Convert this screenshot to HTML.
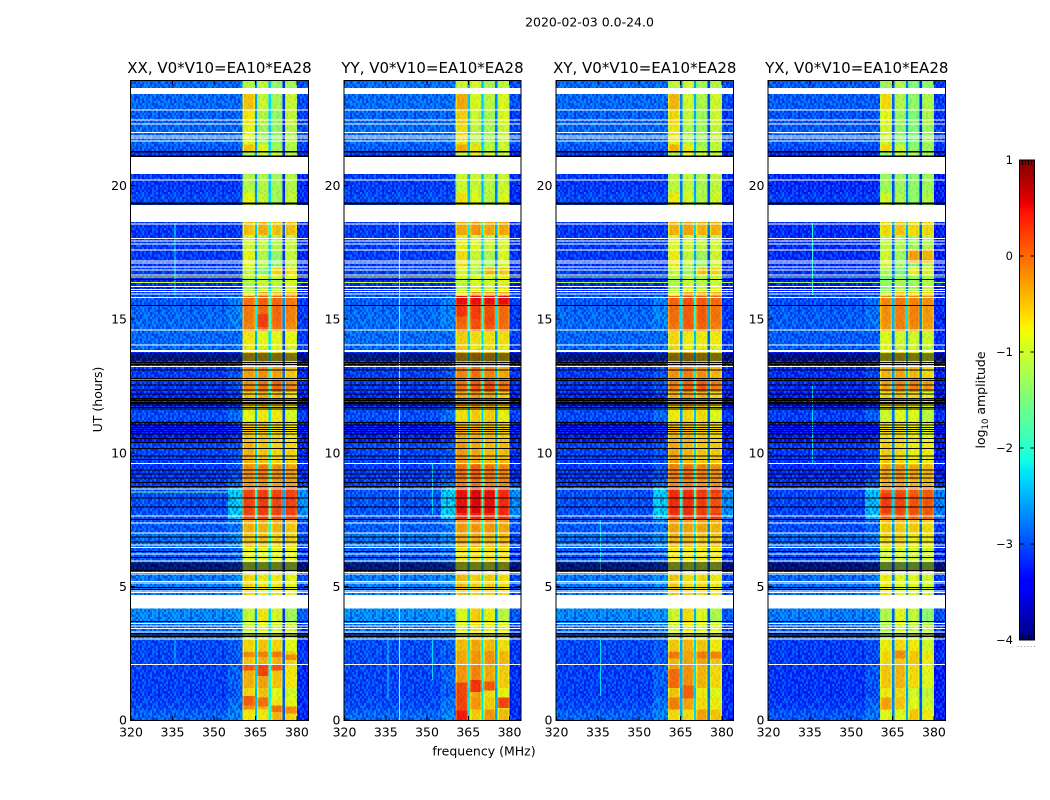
<!DOCTYPE html>
<html>
<head>
<meta charset="utf-8">
<title>2020-02-03 0.0-24.0</title>
<style>
html,body{margin:0;padding:0;background:#fff;}
svg{display:block;}
text{font-family:"DejaVu Sans","Liberation Sans",sans-serif;fill:#000;}
</style>
</head>
<body>
<svg id="fig" xmlns="http://www.w3.org/2000/svg" width="1050" height="800" viewBox="0 0 1050 800">
<text x="589.5" y="26.5" font-size="12.5" text-anchor="middle">2020-02-03 0.0-24.0</text>
<text x="484" y="755.5" font-size="12.5" text-anchor="middle">frequency (MHz)</text>
<text transform="translate(102,399.5) rotate(-90)" font-size="12.5" text-anchor="middle">UT (hours)</text>
<text transform="translate(985,400) rotate(-90)" font-size="12.5" text-anchor="middle">log<tspan font-size="8.5" dy="3">10</tspan><tspan dy="-3"> amplitude</tspan></text>
</svg>
<script>
// ---- data: values in log10 amplitude, hours UT, MHz ----
const panelTitles = ["XX, V0*V10=EA10*EA28","YY, V0*V10=EA10*EA28","XY, V0*V10=EA10*EA28","YX, V0*V10=EA10*EA28"];
const xTicks = [320,335,350,365,380];
const yTicks = [0,5,10,15,20];
const cbarTicks = [1,0,-1,-2,-3,-4];
const rowTopHours   = [23.95,23.43,22.84,22.24,21.54,21.27,20.44,19.75,19.25,18.65,18.15,17.55,16.96,16.66,16.06,15.86,15.51,14.86,14.56,13.96,13.86,13.22,12.77,12.27,11.67,11.17,10.37,9.57,8.98,8.68,7.48,6.98,6.48,5.88,5.49,4.69,4.18,3.59,3.04,2.59,2.09,1.2,0.85,0.4];
const lowLevels     = [-2.8,-2.8,-2.85,-2.8,-2.9,-3.1,-3.1,-3.0,-3.1,-3.1,-3.1,-3.1,-3.05,-3.2,-3.05,-2.9,-2.8,-2.8,-2.8,-2.7,-3.2,-3.1,-3.1,-3.2,-3.0,-3.3,-3.05,-3.1,-3.1,-2.95,-2.9,-2.75,-2.9,-3.2,-2.7,-2.7,-2.6,-2.8,-3.0,-3.0,-3.05,-3.05,-3.0,-2.85];
const shoulderLevels= [-2.8,-2.8,-2.85,-2.8,-2.9,-3.1,-3.1,-3.0,-3.1,-3.1,-3.1,-3.1,-3.05,-3.2,-3.05,-2.7,-2.65,-2.7,-2.8,-2.65,-3.1,-2.95,-2.95,-3.1,-2.8,-3.2,-2.95,-2.95,-2.85,-2.2,-2.75,-2.6,-2.8,-3.1,-2.6,-2.6,-2.55,-2.7,-2.9,-2.9,-2.85,-2.9,-2.75,-2.65];
const sub1Levels    = [-1.0,-0.4,-0.6,-0.7,-0.4,-1.1,-1.0,-0.7,-0.7,-0.4,-0.8,-0.7,-0.9,-1.1,-0.8,0.05,0.0,-0.05,-0.6,-0.6,-0.5,-0.2,-0.1,-0.4,-0.7,-0.4,-0.3,-0.1,-0.15,0.3,-0.3,-0.4,-0.7,-0.9,-0.5,-0.5,-0.9,-0.9,-0.5,-0.4,-0.3,-0.5,-0.1,-0.6];
const sub2Levels    = [-0.9,-0.9,-1.0,-1.1,-0.7,-0.8,-1.0,-0.9,-0.9,-0.3,-0.9,-1.0,-1.2,-0.9,-0.3,0.15,0.1,0.1,-0.7,-0.8,-0.4,-0.1,0.05,-0.3,-0.6,-0.4,-0.4,0.0,-0.1,0.35,-0.3,-0.4,-0.7,-0.9,-0.6,-0.6,-0.6,-0.7,-0.4,-0.3,-0.2,-0.4,-0.3,-0.6];
const sub3Levels    = [-1.2,-1.1,-1.2,-1.2,-1.1,-0.9,-1.1,-1.1,-1.1,-0.4,-1.0,-1.2,-0.5,-1.0,-0.4,0.1,0.1,0.05,-0.7,-0.7,-0.5,-0.2,0.1,-0.4,-0.6,-0.5,-0.5,-0.1,-0.2,0.3,-0.3,-0.5,-0.7,-0.9,-0.6,-0.6,-0.8,-0.8,-0.5,-0.3,-0.4,-0.7,-0.6,-0.3];
const sub4Levels    = [-1.1,-0.9,-0.9,-1.0,-1.0,-1.0,-1.0,-0.9,-0.9,-0.4,-0.9,-0.9,-0.6,-0.8,-0.4,0.0,-0.05,-0.1,-0.7,-0.9,-0.6,-0.4,-0.1,-0.6,-0.8,-0.6,-0.5,-0.2,-0.2,0.3,-0.4,-0.5,-0.7,-0.9,-0.7,-0.7,-1.1,-0.8,-0.7,-0.5,-0.6,-0.8,-0.7,-0.5];
const edgeLevels    = [-3.0,-3.0,-3.1,-3.0,-3.1,-3.2,-3.2,-3.2,-3.2,-3.2,-3.2,-3.2,-3.2,-3.3,-3.2,-3.1,-3.1,-3.1,-3.1,-3.0,-3.3,-3.2,-3.2,-3.3,-3.1,-3.3,-3.2,-3.2,-3.1,-2.6,-3.0,-3.0,-3.1,-3.3,-3.0,-3.0,-2.9,-3.1,-3.2,-3.1,-3.2,-3.2,-3.2,-3.2];
const panelHiOffset = [-0.1,0.05,-0.02,-0.22];
const panelLowOffset= [-0.06,-0.03,-0.06,-0.14];
const subEdgeDrop   = [-0.3,-0.2];
const gapBase       = [[-2.5,-2.2,-3.0],[-2.3,-2.3,-2.6],[-2.6,-2.4,-2.9],[-2.8,-2.6,-3.05]];
const whiteBands = [[23.65,23.43],[21.07,20.44],[19.27,18.63],[4.68,4.18],[13.84,13.77]];
const whiteLines = [22.83,22.45,22.30,21.99,21.85,21.78,21.67,20.21,18.56,18.02,17.92,17.81,17.59,17.18,17.10,16.95,16.85,16.66,16.22,16.12,16.03,15.94,15.82,15.51,14.59,14.03,13.23,9.60,8.64,7.63,7.38,7.00,6.55,6.46,6.21,5.95,5.52,5.46,5.18,5.12,4.83,4.77,3.62,3.52,3.43,3.30,3.03,2.08];
const blackLines = [16.48,15.52,13.69,13.62,13.54,13.47,13.38,13.31,13.10,12.79,12.70,12.54,12.35,12.20,12.04,11.95,11.88,11.79,11.70,11.63,11.13,11.04,10.95,10.88,10.80,10.70,10.54,10.38,10.17,9.88,9.75,9.36,9.21,9.05,8.88,8.73,8.30,7.98,7.51,6.84,6.67,6.30,6.08,5.87,5.80,5.72,5.65,5.60,4.96,4.89,3.68,3.24,3.18,3.12];
const blackBands = [[21.30,21.24],[21.13,21.07],[19.36,19.30],[12.00,11.96],[11.86,11.82]];
// hot spots: panel, sub-band (0-3), top hour, bottom hour, level
const patches = [
[0,0,2.55,2.35,-0.2],[0,1,2.55,2.35,-0.15],[0,2,2.55,2.35,-0.1],[0,3,2.45,2.25,-0.2],
[0,0,2.05,1.85,0.1],[0,1,2.05,1.65,0.2],[0,2,2.05,1.85,0.1],
[0,0,0.9,0.55,0.05],[0,1,0.85,0.5,-0.05],[0,2,0.55,0.3,-0.05],[0,3,0.5,0.25,-0.2],
[0,1,15.2,14.7,0.25],
[1,0,15.86,15.55,0.5],[1,1,15.86,15.55,0.5],[1,2,15.86,15.55,0.5],[1,3,15.86,15.55,0.5],[1,0,15.5,15.1,0.3],[1,1,15.5,15.0,0.25],[1,2,15.1,14.8,0.2],
[1,0,8.58,7.75,0.5],[1,1,8.58,7.75,0.55],[1,2,8.58,7.75,0.5],[1,3,8.5,7.75,0.35],
[1,0,1.4,0.1,0.2],[1,1,1.5,1.05,0.3],[1,2,1.45,1.1,0.1],[1,3,0.85,0.45,0.2],[1,0,0.35,0,0.45],
[2,0,8.58,7.75,0.35],[2,1,8.58,7.75,0.35],[2,2,8.5,7.75,0.25],[2,3,8.5,7.75,0.15],[2,0,1.9,1.2,0.0],[2,1,1.3,0.8,0.05],[2,0,2.55,2.3,-0.1],[2,2,2.55,2.3,-0.1],[2,3,2.55,2.3,-0.15],
[3,0,8.5,7.75,0.25],[3,1,8.5,7.75,0.2],[3,2,8.4,7.75,0.15],[3,3,8.3,7.75,0.1],[3,1,2.6,2.3,-0.2],[3,2,17.6,17.1,-0.3],[3,3,17.6,17.1,-0.4]
];
// vertical interference: panel, MHz, top hour, bottom hour, level
const rfiColumns = [
[0,335.8,18.6,15.9,-2.2],[0,335.8,3.0,2.1,-2.4],
[1,339.8,19.3,0,-1.4],[1,335.7,3.0,0.8,-2.3],[1,351.8,3.0,1.5,-2.3],[1,351.8,9.6,7.7,-2.3],
[2,335.7,3.0,0.9,-2.3],[2,335.7,7.5,5.5,-2.3],
[3,335.8,18.6,15.9,-2.1],[3,335.8,12.5,9.6,-2.3]
];
// horizontal interference: panel, MHz start, MHz end, hour, level
const rfiRows = [
[0,338,355,21.99,-0.4],[0,320,384,16.58,-0.8],[0,320,384,16.38,-1.0],[0,320,355,8.53,-1.6],[0,320,384,12.72,-1.0],
[1,338,355,21.99,-0.9],[1,320,384,16.58,-0.8],[1,320,384,16.38,-1.0],
[2,338,355,21.99,-0.5],[2,320,384,16.58,-1.4],[2,320,384,16.38,-1.2],
[3,322,352,21.97,-0.4],[3,320,384,16.58,-1.6],[3,320,384,16.38,-1.3]
];
const speckleTile = ["7302915846027391","1864072935186420","5930718264903571","2487160395728146","9036241758093462","3718509426315870","6241897035729184","0593462817046935","8172039564281703","4960725183694052","2375918046173869","7816430952840317","0549276381569024","9283150764932681","3607482915047293","6195038274618750"];

// ---- scales ----
const NS = "http://www.w3.org/2000/svg";
const fig = document.getElementById("fig");
const panelEdges = [[131,308],[344.5,520.5],[556.5,733],[768.5,945]];
const AX_TOP = 81, AX_BOTTOM = 720;
const yOf = h => AX_BOTTOM - h * 26.72;
const xScale = p => f => panelEdges[p][0] + (f - 320) * (panelEdges[p][1] - panelEdges[p][0]) / 64;
function piece(t, pts){ for(let i=1;i<pts.length;i++){ if(t<=pts[i][0]){ const a=pts[i-1],b=pts[i]; return a[1]+(b[1]-a[1])*(t-a[0])/(b[0]-a[0]); } } return pts[pts.length-1][1]; }
function jet(v){
  const t=Math.max(0,Math.min(1,(v+4)/5));
  const r=piece(t,[[0,0],[.35,0],[.66,1],[.89,1],[1,.5]]);
  const g=piece(t,[[0,0],[.125,0],[.375,1],[.64,1],[.91,0],[1,0]]);
  const b=piece(t,[[0,.5],[.11,1],[.34,1],[.65,0],[1,0]]);
  return "rgb("+Math.round(r*255)+","+Math.round(g*255)+","+Math.round(b*255)+")";
}
function make(tag, attrs, parent){
  const el=document.createElementNS(NS,tag);
  for(const k in attrs) el.setAttribute(k,attrs[k]);
  (parent||fig).appendChild(el);
  return el;
}

// ---- speckle texture ----
const defs = make("defs",{});
const pat = make("pattern",{id:"speckle",patternUnits:"userSpaceOnUse",width:32,height:38.4},defs);
speckleTile.forEach((row,j)=>{
  for(let i=0;i<row.length;i++){
    const d=+row[i];
    const c=make("rect",{x:i*2,y:j*2.4,width:2,height:2.4,fill:d>=5?"#00d0ff":"#0000c8","fill-opacity":d>=5?(d-4)*0.085:(5-d)*0.1},pat);
    
    
  }
});

// ---- panels ----
const subEdges=[[360.4,364.8],[365.6,369.8],[370.6,374.8],[375.6,380]];
const gapEdges=[[364.8,365.6],[369.8,370.6],[374.8,375.6]];
const subSeries=[sub1Levels,sub2Levels,sub3Levels,sub4Levels];
const pNames=["xx","yy","xy","yx"];
panelTitles.forEach((title,p)=>{
  const x=xScale(p);
  const [L,R]=panelEdges[p];
  const cid="clip"+p;
  const cp=make("clipPath",{id:cid},defs);
  make("rect",{x:L,y:AX_TOP,width:R-L,height:AX_BOTTOM-AX_TOP},cp);
  const g=make("g",{"clip-path":"url(#"+cid+")","shape-rendering":"crispEdges"});
  
  
  const cell=(f0,f1,h0,h1,v,name)=>{
    const c=make("rect",{x:x(f0),y:yOf(h0),width:x(f1)-x(f0),height:yOf(h1)-yOf(h0),fill:jet(v)},g);
    
    
    return c;
  };
  const subCell=(k,top,bot,v)=>{
    const e=subEdges[k];
    cell(e[0],e[1],top,bot,v,'sub-band-cell');
    cell(e[0],e[0]+0.5,top,bot,v+subEdgeDrop[0],'sub-band-left-edge');
    cell(e[1]-0.5,e[1],top,bot,v+subEdgeDrop[1],'sub-band-right-edge');
  };
  rowTopHours.forEach((top,i)=>{
    const bot=i+1<rowTopHours.length?rowTopHours[i+1]:0;
    cell(320,355,top,bot,lowLevels[i]+panelLowOffset[p],'low-band-cell');
    cell(355,360.4,top,bot,shoulderLevels[i]+panelLowOffset[p],'shoulder-cell');
    subSeries.forEach((s,k)=>{
      subCell(k,top,bot,s[i]+panelHiOffset[p]);
    });
    const avg=(sub1Levels[i]+sub2Levels[i]+sub3Levels[i]+sub4Levels[i])/4;
    gapEdges.forEach((e,k)=>{
      cell(e[0],e[1],top,bot,gapBase[p][k]+0.5*(avg+0.6),'channel-gap-cell');
    });
    cell(380,384,top,bot,edgeLevels[i]+panelLowOffset[p],'edge-band-cell');
  });
  patches.filter(a=>a[0]===p).forEach(a=>{
    subCell(a[1],a[2],a[3],a[4]);
  });
  [[320,360.4],[380,384]].forEach(e=>{
    const t=make("rect",{x:x(e[0]),y:AX_TOP,width:x(e[1])-x(e[0]),height:AX_BOTTOM-AX_TOP,fill:"url(#speckle)"},g);
    
    
  });
  subEdges.forEach(e=>{
    const t=make("rect",{x:x(e[0]),y:AX_TOP,width:x(e[1])-x(e[0]),height:AX_BOTTOM-AX_TOP,fill:"url(#speckle)",opacity:0.2},g);
    
    
  });
  rfiColumns.filter(a=>a[0]===p).forEach(a=>{
    cell(a[1],a[1]+0.35,a[2],a[3],a[4],'rfi-column');
  });
  rfiRows.filter(a=>a[0]===p).forEach(a=>{
    cell(a[1],a[2],a[3]+0.019,a[3]-0.019,a[4],'rfi-row');
  });
  whiteBands.forEach(b=>{
    const c=make("rect",{x:L,y:yOf(b[0]),width:R-L,height:yOf(b[1])-yOf(b[0]),fill:"#fff"},g);
    
    
  });
  whiteLines.forEach(h=>{
    const c=make("rect",{x:L,y:yOf(h)-0.5,width:R-L,height:1,fill:"#fff"},g);
    
    
  });
  blackLines.forEach(h=>{
    const c=make("rect",{x:L,y:yOf(h)-0.5,width:R-L,height:1,fill:"#000"},g);
    
    
  });
  blackBands.forEach(b=>{
    const c=make("rect",{x:L,y:yOf(b[0]),width:R-L,height:yOf(b[1])-yOf(b[0]),fill:"#000"},g);
    
    
  });
  const frame=make("rect",{x:L-0.5,y:AX_TOP-0.5,width:R-L+1,height:AX_BOTTOM-AX_TOP+1,fill:"none",stroke:"#000","stroke-width":1,"shape-rendering":"crispEdges"});
  
  
  xTicks.forEach(t=>{
    const px=x(t);
    [[AX_BOTTOM,AX_BOTTOM-4],[AX_TOP,AX_TOP+4]].forEach(e=>{
      const m=make("line",{x1:px,x2:px,y1:e[0],y2:e[1],stroke:"#000","stroke-width":1,"shape-rendering":"crispEdges"});
      
      
    });
    const lab=make("text",{x:px,y:736.5,"font-size":12.5,"text-anchor":"middle"});
    lab.textContent=t;
    
    
  });
  yTicks.forEach(t=>{
    const py=yOf(t);
    [[L,L+4],[R,R-4]].forEach(e=>{
      const m=make("line",{x1:e[0],x2:e[1],y1:py,y2:py,stroke:"#000","stroke-width":1,"shape-rendering":"crispEdges"});
      
      
    });
    const lab=make("text",{x:L-4,y:py+4.5,"font-size":12.5,"text-anchor":"end"});
    lab.textContent=t;
    
    
  });
  const tt=make("text",{x:(L+R)/2,y:73,"font-size":15,"text-anchor":"middle"});
  tt.textContent=title;
  
  
});

// ---- colorbar ----
const CB={x:1019.5,w:15,top:160,bottom:640};
const cbY=v=>CB.top+(1-v)*(CB.bottom-CB.top)/5;
const grad=make("linearGradient",{id:"jetgrad",x1:0,y1:1,x2:0,y2:0},defs);
[0,.05,.11,.125,.2,.3,.34,.35,.375,.45,.5,.55,.64,.65,.66,.75,.89,.91,.95,1].forEach(t=>{
  const st=make("stop",{offset:t,"stop-color":jet(t*5-4)},grad);
  
  
});
const bar=make("rect",{x:CB.x,y:CB.top,width:CB.w,height:CB.bottom-CB.top,fill:"url(#jetgrad)",stroke:"#000","stroke-width":1});


cbarTicks.forEach(v=>{
  const py=cbY(v);
  [[CB.x,CB.x+4],[CB.x+CB.w,CB.x+CB.w-4]].forEach(e=>{
    const m=make("line",{x1:e[0],x2:e[1],y1:py,y2:py,stroke:"#000","stroke-width":1,"shape-rendering":"crispEdges"});
    
    
  });
  const lab=make("text",{x:1013,y:py+4,"font-size":11.5,"text-anchor":"end"});
  lab.textContent=(v<0?"\u2212":"")+Math.abs(v);
  
  
});
[0.2,0.4,0.6,0.8].forEach((d,i)=>{
  [[1,-1],[-4,1]].forEach(e=>{
    const base=cbY(e[0]);
    const m=make("line",{x1:CB.x+3+i*3,x2:CB.x+3+i*3,y1:base,y2:base+(e[1]>0?-5:5),stroke:"#000","stroke-width":1,"shape-rendering":"crispEdges"});
    
    
  });
});
for(let i=0;i<6;i++){
  const dot=make("rect",{x:1017.5+i*3.3,y:646,width:1,height:1,fill:"#999"});
  
  
}
</script>
</body>
</html>
